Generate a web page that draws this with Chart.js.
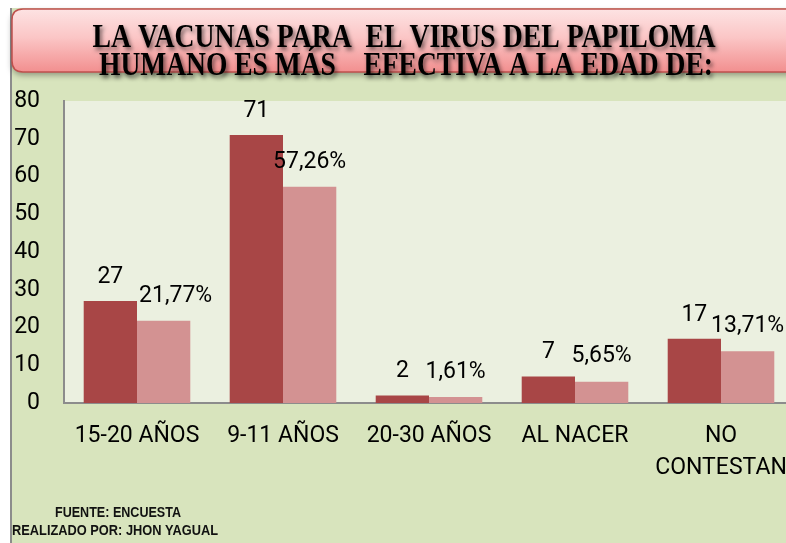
<!DOCTYPE html>
<html><head><meta charset="utf-8">
<script src="https://cdn.jsdelivr.net/npm/chart.js@4/dist/chart.umd.min.js"></script>
<style>
html,body{margin:0;padding:0;background:#fff;overflow:hidden;width:786px;height:543px;}
canvas{display:block;}
</style></head>
<body>
<canvas id="c" width="800" height="543"></canvas>
<script>
const categories = ['15-20 AÑOS', '9-11 AÑOS', '20-30 AÑOS', 'AL NACER', ['NO', 'CONTESTAN']];
const frecuencia = [27, 71, 2, 7, 17];
const porcentaje = [21.77, 57.26, 1.61, 5.65, 13.71];
const porcentajeLabels = ['21,77%', '57,26%', '1,61%', '5,65%', '13,71%'];
const yTicks = [0, 10, 20, 30, 40, 50, 60, 70, 80];
const titleLines = ['LA VACUNAS PARA  EL VIRUS DEL PAPILOMA', 'HUMANO ES MÁS    EFECTIVA A LA EDAD DE:'];
const footerLines = ['FUENTE: ENCUESTA', 'REALIZADO POR: JHON YAGUAL'];

const FONT = 'Roboto, "Liberation Sans", Arial, sans-serif';

function fitText(ctx, t, x, y, w) {
  const mw = ctx.measureText(t).width;
  ctx.save();
  ctx.translate(x, y);
  ctx.scale(w / mw, 1);
  ctx.fillText(t, 0, 0);
  ctx.restore();
}

const bgPlugin = {
  id: 'bg',
  beforeDraw(chart) {
    const ctx = chart.ctx, ca = chart.chartArea;
    ctx.save();
    ctx.fillStyle = '#ffffff';
    ctx.fillRect(0, 0, chart.width, chart.height);
    ctx.fillStyle = '#d8e4bd';
    ctx.fillRect(11, 8, chart.width - 11, chart.height - 8);
    ctx.fillStyle = '#8c8c8c';
    ctx.fillRect(10, 8, 2, chart.height - 8);
    ctx.fillStyle = '#ebf0e0';
    ctx.fillRect(ca.left, ca.top, ca.right - ca.left, ca.bottom - ca.top);
    // title box
    ctx.shadowColor = 'rgba(0,0,0,0.35)';
    ctx.shadowBlur = 6; ctx.shadowOffsetY = 3;
    const x = 12, y = 9, w = chart.width - 12 + 20, h = 63, r = 11;
    const g = ctx.createLinearGradient(0, y, 0, y + h);
    g.addColorStop(0, '#fde3e3');
    g.addColorStop(0.45, '#fbc6c6');
    g.addColorStop(1, '#f28f8f');
    ctx.fillStyle = g;
    ctx.beginPath();
    ctx.moveTo(x + r, y); ctx.lineTo(x + w, y); ctx.lineTo(x + w, y + h);
    ctx.lineTo(x + r, y + h); ctx.quadraticCurveTo(x, y + h, x, y + h - r);
    ctx.lineTo(x, y + r); ctx.quadraticCurveTo(x, y, x + r, y); ctx.closePath();
    ctx.fill();
    ctx.shadowColor = 'transparent';
    ctx.strokeStyle = '#c0504d'; ctx.lineWidth = 1.5;
    ctx.stroke();
    ctx.restore();
  },
  afterDraw(chart) {
    const ctx = chart.ctx;
    ctx.save();
    // title text
    ctx.font = 'bold 34px "Liberation Serif", "Times New Roman", serif';
    ctx.textAlign = 'center';
    ctx.textBaseline = 'alphabetic';
    ctx.fillStyle = '#000';
    ctx.shadowColor = 'rgba(0,0,0,0.55)';
    ctx.shadowBlur = 4; ctx.shadowOffsetX = 2; ctx.shadowOffsetY = 3;
    fitText(ctx, titleLines[0], 404, 47, 623);
    fitText(ctx, titleLines[1], 406, 75, 614);
    ctx.shadowColor = 'transparent';
    ctx.shadowBlur = 0; ctx.shadowOffsetX = 0; ctx.shadowOffsetY = 0;
    // footer
    ctx.font = 'bold 14px "Liberation Sans", Arial, sans-serif';
    ctx.fillStyle = '#111';
    ctx.textAlign = 'left';
    fitText(ctx, footerLines[0], 55, 517, 126);
    fitText(ctx, footerLines[1], 12, 535, 206);
    // data labels
    ctx.font = '23px ' + FONT;
    ctx.textAlign = 'center';
    ctx.textBaseline = 'middle';
    ctx.fillStyle = '#000';
    const m0 = chart.getDatasetMeta(0), m1 = chart.getDatasetMeta(1);
    m0.data.forEach((b, i) => {
      ctx.fillText(String(frecuencia[i]), b.x, b.y - 24);
    });
    m1.data.forEach((b, i) => {
      const dx = i === 0 ? 12 : 0;
      ctx.fillText(porcentajeLabels[i], b.x + dx, b.y - 25);
    });
    ctx.restore();
  }
};

new Chart(document.getElementById('c'), {
  type: 'bar',
  data: {
    labels: categories,
    datasets: [
      { label: 'Frecuencia', data: frecuencia, backgroundColor: '#a84646', borderWidth: 0 },
      { label: 'Porcentaje', data: porcentaje, backgroundColor: '#d39292', borderWidth: 0 }
    ]
  },
  options: {
    responsive: false,
    animation: false,
    devicePixelRatio: 1,
    layout: { padding: { left: 11, right: 6, top: 101, bottom: 0 } },
    plugins: { legend: { display: false }, title: { display: false }, tooltip: { enabled: false } },
    datasets: { bar: { categoryPercentage: 0.73, barPercentage: 1.0 } },
    scales: {
      x: {
        grid: { display: false, drawTicks: false },
        border: { display: true, color: '#8c8c8c', width: 2 },
        ticks: { color: '#000', font: { family: FONT, size: 23, lineHeight: 1.4 }, padding: 17, maxRotation: 0, autoSkip: false },
        afterFit(s) { s.height = 140; s.paddingLeft = 0; s.paddingRight = 0; }
      },
      y: {
        min: 0, max: 80,
        afterBuildTicks(s) { s.ticks = yTicks.map(v => ({ value: v })); },
        grid: { display: false, drawTicks: false },
        border: { display: true, color: '#8c8c8c', width: 2 },
        ticks: { color: '#000', font: { family: FONT, size: 23 }, padding: 24 },
        afterFit(s) { s.width = 53; s.paddingTop = 0; s.paddingBottom = 0; }
      }
    }
  },
  plugins: [bgPlugin]
});
</script>
</body></html>
